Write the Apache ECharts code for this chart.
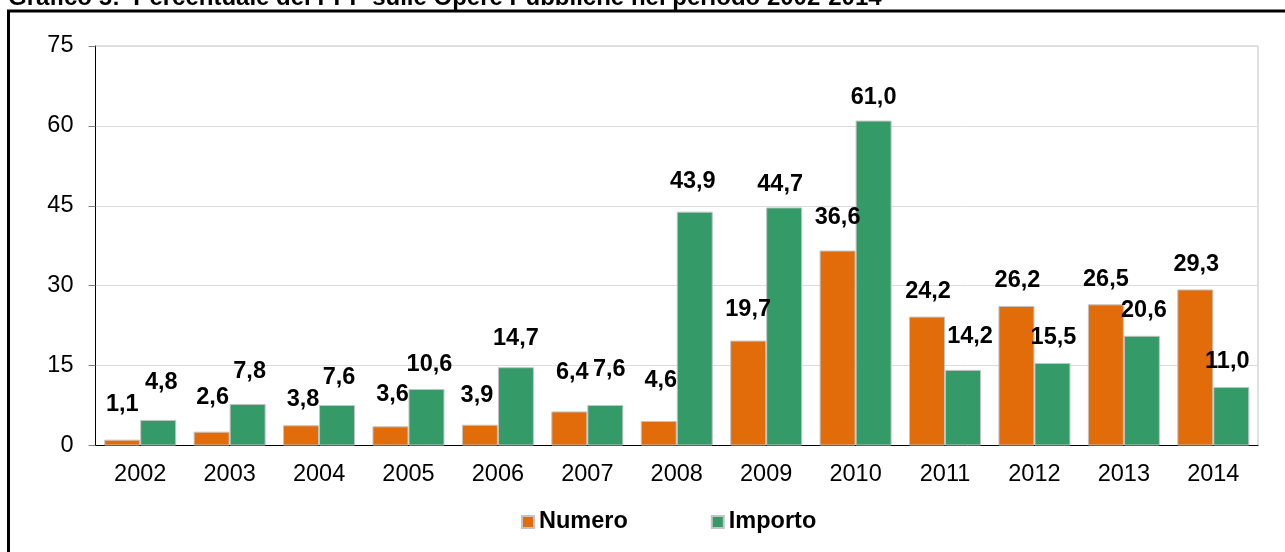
<!DOCTYPE html>
<html>
<head>
<meta charset="utf-8">
<title>Grafico 5</title>
<script src="https://cdn.jsdelivr.net/npm/echarts@6/dist/echarts.min.js"></script>
<style>
  html, body { margin: 0; padding: 0; background: #fff; }
  #main { width: 1285px; height: 552px; }
</style>
</head>
<body>
<div id="main"></div>
<script>
// dati
const anni = ['2002', '2003', '2004', '2005', '2006', '2007', '2008', '2009', '2010', '2011', '2012', '2013', '2014']
const numero = [1.1, 2.6, 3.8, 3.6, 3.9, 6.4, 4.6, 19.7, 36.6, 24.2, 26.2, 26.5, 29.3]
const importo = [4.8, 7.8, 7.6, 10.6, 14.7, 7.6, 43.9, 44.7, 61.0, 14.2, 15.5, 20.6, 11.0]
const yTicks = { min: 0, max: 75, step: 15 }

// spostamenti delle etichette (come nel foglio originale)
const spostaNumero = [[0, 10], [1, 9], [2, 1], [2, 7], [-3, 4], [3, 14], [2, 15], [0, 6], [0, 8], [1, 0], [1, 0], [0, 0], [1, 0]]
const spostaImporto = [[3, 12], [2, 7], [2, 3], [3, 0], [0, 4], [4, 11], [-2, 5], [-4, -2], [0, -2], [7, 8], [1, 0], [2, 0], [-4, 0]]

const FONT = "'Liberation Sans', Arial, sans-serif"
const FS = 23.5
const fmt = v => v.toFixed(1).replace('.', ',')

function serie(nome, valori, colore, sposta) {
  return {
    name: nome,
    type: 'bar',
    barWidth: 36,
    barGap: '0%',
    itemStyle: { color: colore, borderColor: '#c4c4c4', borderWidth: 1 },
    label: {
      show: true,
      position: 'top',
      distance: 13,
      color: '#000',
      fontFamily: FONT,
      fontWeight: 'bold',
      fontSize: FS,
      formatter: p => fmt(p.value)
    },
    data: valori.map((v, i) => ({
      value: v,
      label: { offset: [sposta[i][0], -sposta[i][1]] }
    }))
  }
}

function disegna() {
  const myChart = echarts.init(document.getElementById('main'))
  const option = {
    animation: false,
    textStyle: { fontFamily: FONT },
    graphic: [
      {
        type: 'rect',
        shape: { x: 8.5, y: 11, width: 1400, height: 700 },
        style: { fill: 'none', stroke: '#000', lineWidth: 3 }
      },
      {
        type: 'text',
        x: 8,
        y: -1.5,
        style: {
          text: 'Grafico 5:  Percentuale del PPP sulle Opere Pubbliche nel periodo 2002-2014',
          font: 'bold 24px ' + FONT,
          fill: '#000',
          verticalAlign: 'middle'
        }
      }
    ],
    legend: {
      left: 516,
      top: 505,
      itemWidth: 12,
      itemHeight: 12,
      itemGap: 83,
      selectedMode: false,
      icon: 'rect',
      textStyle: { fontSize: FS, fontWeight: 'bold', color: '#000', fontFamily: FONT },
      data: ['Numero', 'Importo']
    },
    grid: {
      left: 95.5,
      right: 27,
      top: 46,
      bottom: 106.5,
      show: true,
      borderColor: '#c0c0c0',
      borderWidth: 1
    },
    xAxis: {
      type: 'category',
      data: anni,
      axisLine: { lineStyle: { color: '#000', width: 1 } },
      axisTick: { length: 7, lineStyle: { color: '#808080' } },
      axisLabel: { fontSize: FS, color: '#000', margin: 17, fontFamily: FONT }
    },
    yAxis: {
      type: 'value',
      min: yTicks.min,
      max: yTicks.max,
      interval: yTicks.step,
      axisLine: { show: true, lineStyle: { color: '#000', width: 1 } },
      axisTick: { show: true, length: 7, lineStyle: { color: '#808080' } },
      axisLabel: { fontSize: FS, color: '#000', margin: 22, fontFamily: FONT },
      splitLine: { lineStyle: { color: '#dcdcdc' } }
    },
    series: [
      serie('Numero', numero, '#E36C0A', spostaNumero),
      serie('Importo', importo, '#349A68', spostaImporto)
    ]
  }
  myChart.setOption(option)
}

disegna()
</script>
</body>
</html>
